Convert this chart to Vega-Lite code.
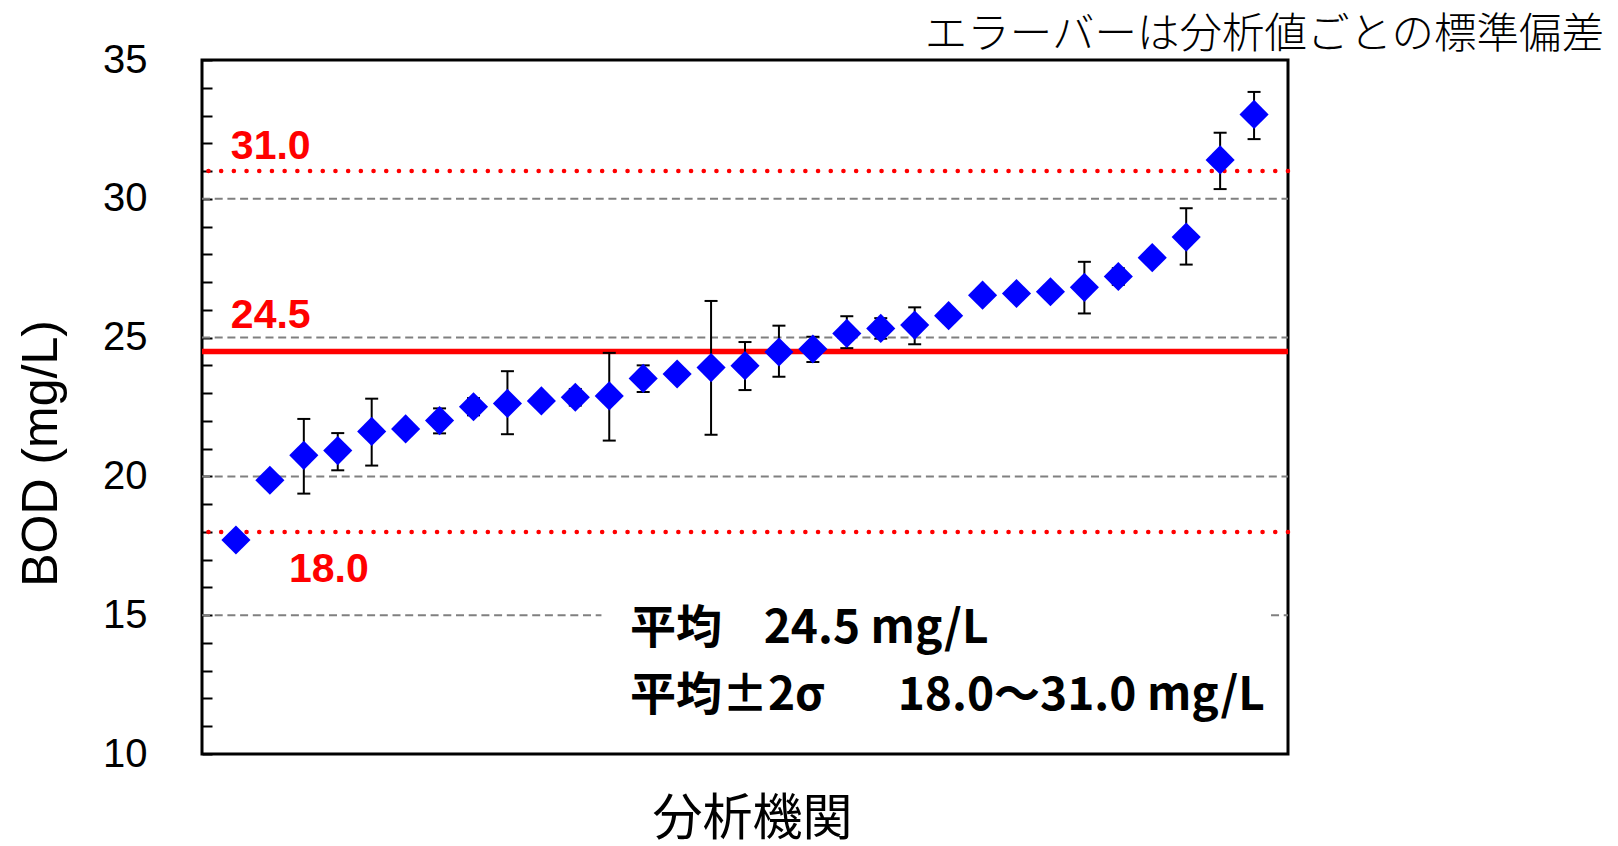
{
  "$schema": "https://vega.github.io/schema/vega-lite/v6.json",
  "width": 1086,
  "height": 694,
  "autosize": {"type": "none"},
  "padding": {"left": 202, "top": 60, "right": 330, "bottom": 92},
  "background": "white",
  "config": {
    "view": {"stroke": "black", "strokeWidth": 3},
    "font": "Liberation Sans",
    "axisX": {
      "ticks": false, "labels": false, "domain": false, "grid": false,
      "titleFont": "Noto Sans CJK JP", "titleFontSize": 50,
      "titleFontWeight": "normal", "titleColor": "black", "titlePadding": 40, "titleX": 550
    },
    "axisY": {
      "tickCount": 25,
      "labelExpr": "datum.value % 5 === 0 ? datum.label : ''",
      "tickSize": -10, "tickWidth": 2, "tickColor": "black",
      "domain": false, "grid": false,
      "labelFont": "Liberation Sans", "labelFontSize": 40, "labelColor": "black",
      "labelPadding": 65, "labelFlush": false, "labelOverlap": false,
      "titleFont": "Liberation Sans", "titleFontSize": 50,
      "titleFontWeight": "normal", "titleColor": "black",
      "titleX": -136, "titleY": 393
    }
  },
  "title": {
    "text": "エラーバーは分析値ごとの標準偏差",
    "anchor": "end",
    "frame": "group",
    "dx": 316,
    "dy": 59,
    "offset": 0,
    "fontSize": 42.5,
    "font": "Noto Sans CJK JP",
    "fontWeight": 300,
    "color": "black",
    "baseline": "bottom"
  },
  "datasets": {
    "labs": [
      {"lab": 1, "bod": 17.71, "lo": 17.56, "hi": 17.86},
      {"lab": 2, "bod": 19.86, "lo": 19.71, "hi": 20.01},
      {"lab": 3, "bod": 20.76, "lo": 19.38, "hi": 22.07},
      {"lab": 4, "bod": 20.93, "lo": 20.22, "hi": 21.56},
      {"lab": 5, "bod": 21.62, "lo": 20.39, "hi": 22.8},
      {"lab": 6, "bod": 21.71, "lo": 21.56, "hi": 21.86},
      {"lab": 7, "bod": 22.01, "lo": 21.55, "hi": 22.45},
      {"lab": 8, "bod": 22.51, "lo": 22.2, "hi": 22.82},
      {"lab": 9, "bod": 22.63, "lo": 21.52, "hi": 23.79},
      {"lab": 10, "bod": 22.72, "lo": 22.5, "hi": 22.94},
      {"lab": 11, "bod": 22.85, "lo": 22.55, "hi": 23.15},
      {"lab": 12, "bod": 22.9, "lo": 21.29, "hi": 24.45},
      {"lab": 13, "bod": 23.53, "lo": 23.04, "hi": 24.0},
      {"lab": 14, "bod": 23.69, "lo": 23.54, "hi": 23.84},
      {"lab": 15, "bod": 23.92, "lo": 21.5, "hi": 26.32},
      {"lab": 16, "bod": 23.99, "lo": 23.11, "hi": 24.84},
      {"lab": 17, "bod": 24.48, "lo": 23.59, "hi": 25.43},
      {"lab": 18, "bod": 24.59, "lo": 24.12, "hi": 25.03},
      {"lab": 19, "bod": 25.15, "lo": 24.62, "hi": 25.77},
      {"lab": 20, "bod": 25.33, "lo": 24.96, "hi": 25.7},
      {"lab": 21, "bod": 25.45, "lo": 24.76, "hi": 26.09},
      {"lab": 22, "bod": 25.79, "lo": 25.64, "hi": 25.94},
      {"lab": 23, "bod": 26.53, "lo": 26.33, "hi": 26.73},
      {"lab": 24, "bod": 26.59, "lo": 26.44, "hi": 26.74},
      {"lab": 25, "bod": 26.65, "lo": 26.5, "hi": 26.8},
      {"lab": 26, "bod": 26.81, "lo": 25.87, "hi": 27.73},
      {"lab": 27, "bod": 27.2, "lo": 26.9, "hi": 27.5},
      {"lab": 28, "bod": 27.88, "lo": 27.73, "hi": 28.03},
      {"lab": 29, "bod": 28.62, "lo": 27.63, "hi": 29.66},
      {"lab": 30, "bod": 31.4, "lo": 30.35, "hi": 32.38},
      {"lab": 31, "bod": 33.04, "lo": 32.15, "hi": 33.85}
    ],
    "grid": [
      {"v": 15, "x0": 0, "x1": 11.77},
      {"v": 15, "x0": 31.5, "x1": 32},
      {"v": 20, "x0": 0, "x1": 32},
      {"v": 25, "x0": 0, "x1": 32},
      {"v": 30, "x0": 0, "x1": 32}
    ],
    "limits": [{"v": 31.0}, {"v": 18.0}],
    "mean": [{"v": 24.5}],
    "redLabels": [
      {"x": 0.85, "y": 31.45, "t": "31.0"},
      {"x": 0.85, "y": 25.35, "t": "24.5"},
      {"x": 2.56, "y": 16.2, "t": "18.0"}
    ],
    "notes": [
      {"x": 12.61, "y": 13.99, "t": "平均\u00a0\u00a0\u00a0\u00a024.5 mg/L"},
      {"x": 12.61, "y": 11.585, "t": "平均±2σ\u00a0\u00a0\u00a0\u00a0\u00a0\u00a0\u00a018.0～31.0 mg/L"}
    ]
  },
  "layer": [
    {
      "data": {"name": "grid"},
      "mark": {"type": "rule", "color": "#808080", "strokeWidth": 2, "strokeDash": [8, 4.7]},
      "encoding": {
        "x": {"field": "x0", "type": "quantitative", "title": "分析機関", "scale": {"domain": [0, 32], "nice": false, "zero": false}},
        "x2": {"field": "x1"},
        "y": {"field": "v", "type": "quantitative", "title": "BOD (mg/L)", "scale": {"domain": [10, 35], "nice": false, "zero": false}}
      }
    },
    {
      "data": {"name": "limits"},
      "mark": {"type": "rule", "color": "#ff0000", "strokeWidth": 4.5, "strokeDash": [0.1, 12.6], "strokeCap": "round"},
      "encoding": {
        "y": {"field": "v", "type": "quantitative", "title": "BOD (mg/L)", "scale": {"domain": [10, 35], "nice": false, "zero": false}}
      }
    },
    {
      "data": {"name": "mean"},
      "mark": {"type": "rule", "color": "#ff0000", "strokeWidth": 5.5},
      "encoding": {
        "y": {"field": "v", "type": "quantitative", "title": "BOD (mg/L)", "scale": {"domain": [10, 35], "nice": false, "zero": false}}
      }
    },
    {
      "data": {"name": "labs"},
      "mark": {"type": "rule", "color": "black", "strokeWidth": 2},
      "encoding": {
        "x": {"field": "lab", "type": "quantitative", "title": "分析機関", "scale": {"domain": [0, 32], "nice": false, "zero": false}},
        "y": {"field": "lo", "type": "quantitative", "title": "BOD (mg/L)", "scale": {"domain": [10, 35], "nice": false, "zero": false}},
        "y2": {"field": "hi"}
      }
    },
    {
      "data": {"name": "labs"},
      "mark": {"type": "tick", "orient": "horizontal", "color": "black", "size": 13, "thickness": 2, "opacity": 1},
      "encoding": {
        "x": {"field": "lab", "type": "quantitative", "title": "分析機関", "scale": {"domain": [0, 32], "nice": false, "zero": false}},
        "y": {"field": "lo", "type": "quantitative", "title": "BOD (mg/L)", "scale": {"domain": [10, 35], "nice": false, "zero": false}}
      }
    },
    {
      "data": {"name": "labs"},
      "mark": {"type": "tick", "orient": "horizontal", "color": "black", "size": 13, "thickness": 2, "opacity": 1},
      "encoding": {
        "x": {"field": "lab", "type": "quantitative", "title": "分析機関", "scale": {"domain": [0, 32], "nice": false, "zero": false}},
        "y": {"field": "hi", "type": "quantitative", "title": "BOD (mg/L)", "scale": {"domain": [10, 35], "nice": false, "zero": false}}
      }
    },
    {
      "data": {"name": "labs"},
      "mark": {"type": "point", "shape": "diamond", "filled": true, "size": 850, "color": "#0000ff", "opacity": 1},
      "encoding": {
        "x": {"field": "lab", "type": "quantitative", "title": "分析機関", "scale": {"domain": [0, 32], "nice": false, "zero": false}},
        "y": {"field": "bod", "type": "quantitative", "title": "BOD (mg/L)", "scale": {"domain": [10, 35], "nice": false, "zero": false}}
      }
    },
    {
      "data": {"name": "redLabels"},
      "mark": {"type": "text", "align": "left", "baseline": "alphabetic", "font": "Liberation Sans", "fontWeight": "bold", "fontSize": 41, "color": "#ff0000"},
      "encoding": {
        "x": {"field": "x", "type": "quantitative", "title": "分析機関", "scale": {"domain": [0, 32], "nice": false, "zero": false}},
        "y": {"field": "y", "type": "quantitative", "title": "BOD (mg/L)", "scale": {"domain": [10, 35], "nice": false, "zero": false}},
        "text": {"field": "t"}
      }
    },
    {
      "data": {"name": "notes"},
      "mark": {"type": "text", "align": "left", "baseline": "alphabetic", "font": "Noto Sans CJK JP", "fontWeight": "bold", "fontSize": 46, "color": "black"},
      "encoding": {
        "x": {"field": "x", "type": "quantitative", "title": "分析機関", "scale": {"domain": [0, 32], "nice": false, "zero": false}},
        "y": {"field": "y", "type": "quantitative", "title": "BOD (mg/L)", "scale": {"domain": [10, 35], "nice": false, "zero": false}},
        "text": {"field": "t"}
      }
    }
  ]
}
